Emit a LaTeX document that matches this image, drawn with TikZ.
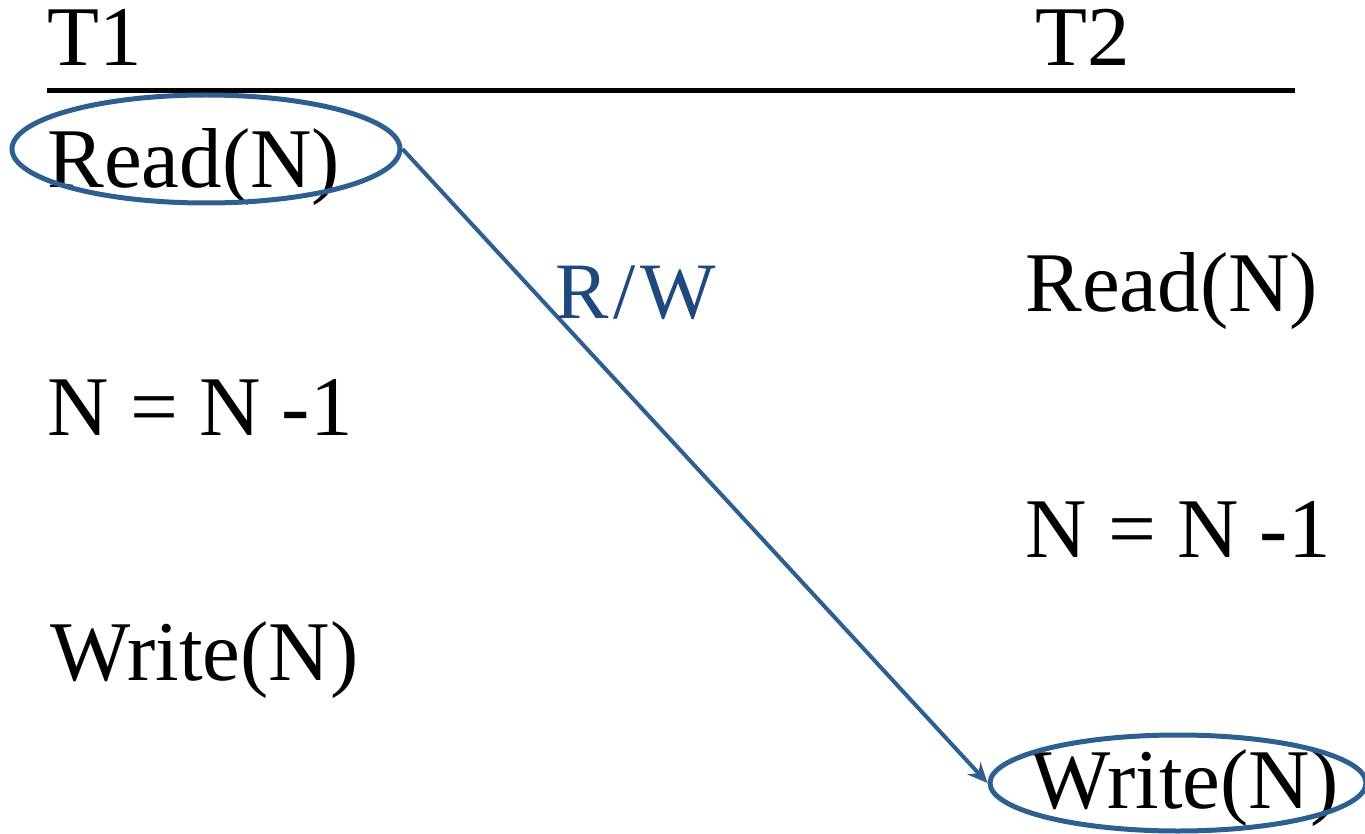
\documentclass[tikz,border=0pt]{standalone}
\usepackage{fontspec}
\setmainfont{Liberation Serif}
\newfontfamily\tnr{Liberation Serif}
\newfontfamily\tnrwide[LetterSpace=6]{Liberation Serif}
\usetikzlibrary{shapes.geometric,arrows.meta}
\definecolor{linecol}{RGB}{46,95,145}
\definecolor{labcol}{RGB}{31,73,125}
\tikzset{
  txt/.style={anchor=base west,inner sep=0pt,font=\tnr\fontsize{42.5}{50}\selectfont},
  ring/.style={draw=linecol,ellipse,line width=2.5pt,inner sep=0pt},
}
\begin{document}
\begin{tikzpicture}[x=0.5pt,y=-0.5pt]
\useasboundingbox (0,0) rectangle (1365,834);
\node[txt] (t1) at (47,66) {T1};
\node[txt] (t2) at (1035,66) {T2};
\coordinate (hl) at (47,91);
\coordinate (hr) at (1295,91);
\draw[line width=2.5pt] (hl) -- (hr);
\node[txt] (r1) at (47,188) {Read(N)};
\node[txt] (r2) at (1025,312) {Read(N)};
\node[txt] (n1) at (47,435) {N = N -1};
\node[txt] (n2) at (1025,557) {N = N -1};
\node[txt] (w1) at (50,680) {Write(N)};
\node[txt] (w2) at (1030,808) {Write(N)};
\node[ring,minimum width=194pt,minimum height=54pt] (e1) at (206,149) {};
\node[ring,minimum width=188pt,minimum height=48pt] (e2) at (1178,783) {};
\draw[linecol,line width=2pt,-{Stealth[length=10pt,width=9pt]}] (e1.east) -- (e2.west);
\node[anchor=base west,inner sep=0pt,text=labcol,font=\tnrwide\fontsize{40}{46}\selectfont] (rw) at (555,319) {R/W};
\end{tikzpicture}
\end{document}
